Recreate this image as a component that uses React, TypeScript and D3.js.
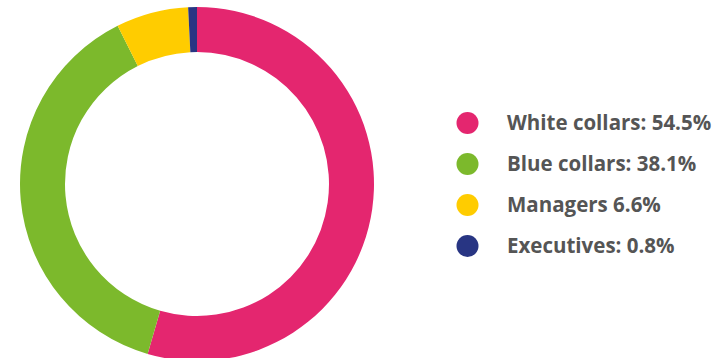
import React from "react";
import * as d3 from "d3";

const categories = ["White collars", "Blue collars", "Managers", "Executives"];
const values = [54.5, 38.1, 6.6, 0.8];
const labels = ["White collars: 54.5%", "Blue collars: 38.1%", "Managers 6.6%", "Executives: 0.8%"];
const colors = ["#E4266F", "#7CB92C", "#FFCC00", "#283583"];

export default function App() {
  const width = 724;
  const height = 358;
  const cx = 197;
  const cy = 184;
  const outerR = 177;
  const innerR = 132;
  const pie = d3.pie<number>().sort(null).value((d) => d);
  const arcs = pie(values);
  const arc = d3.arc<d3.PieArcDatum<number>>().innerRadius(innerR).outerRadius(outerR);
  const legendY = d3.scalePoint<string>().domain(categories).range([123, 246]);

  return (
    <svg width={width} height={height} style={{ position: "absolute", left: 0, top: 0 }}>
      <g transform={`translate(${cx},${cy})`}>
        {arcs.map((a, i) => (
          <path key={i} d={arc(a) || ""} fill={colors[i]} />
        ))}
      </g>
      {categories.map((c, i) => (
        <g key={c} transform={`translate(0,${legendY(c)})`}>
          <circle cx={467.5} cy={0} r={11} fill={colors[i]} />
          <text x={507} y={0} dy="0.36em" fontFamily="'Open Sans', sans-serif" fontWeight="bold" fontSize={20.5} fill="#555555">
            {labels[i]}
          </text>
        </g>
      ))}
    </svg>
  );
}
